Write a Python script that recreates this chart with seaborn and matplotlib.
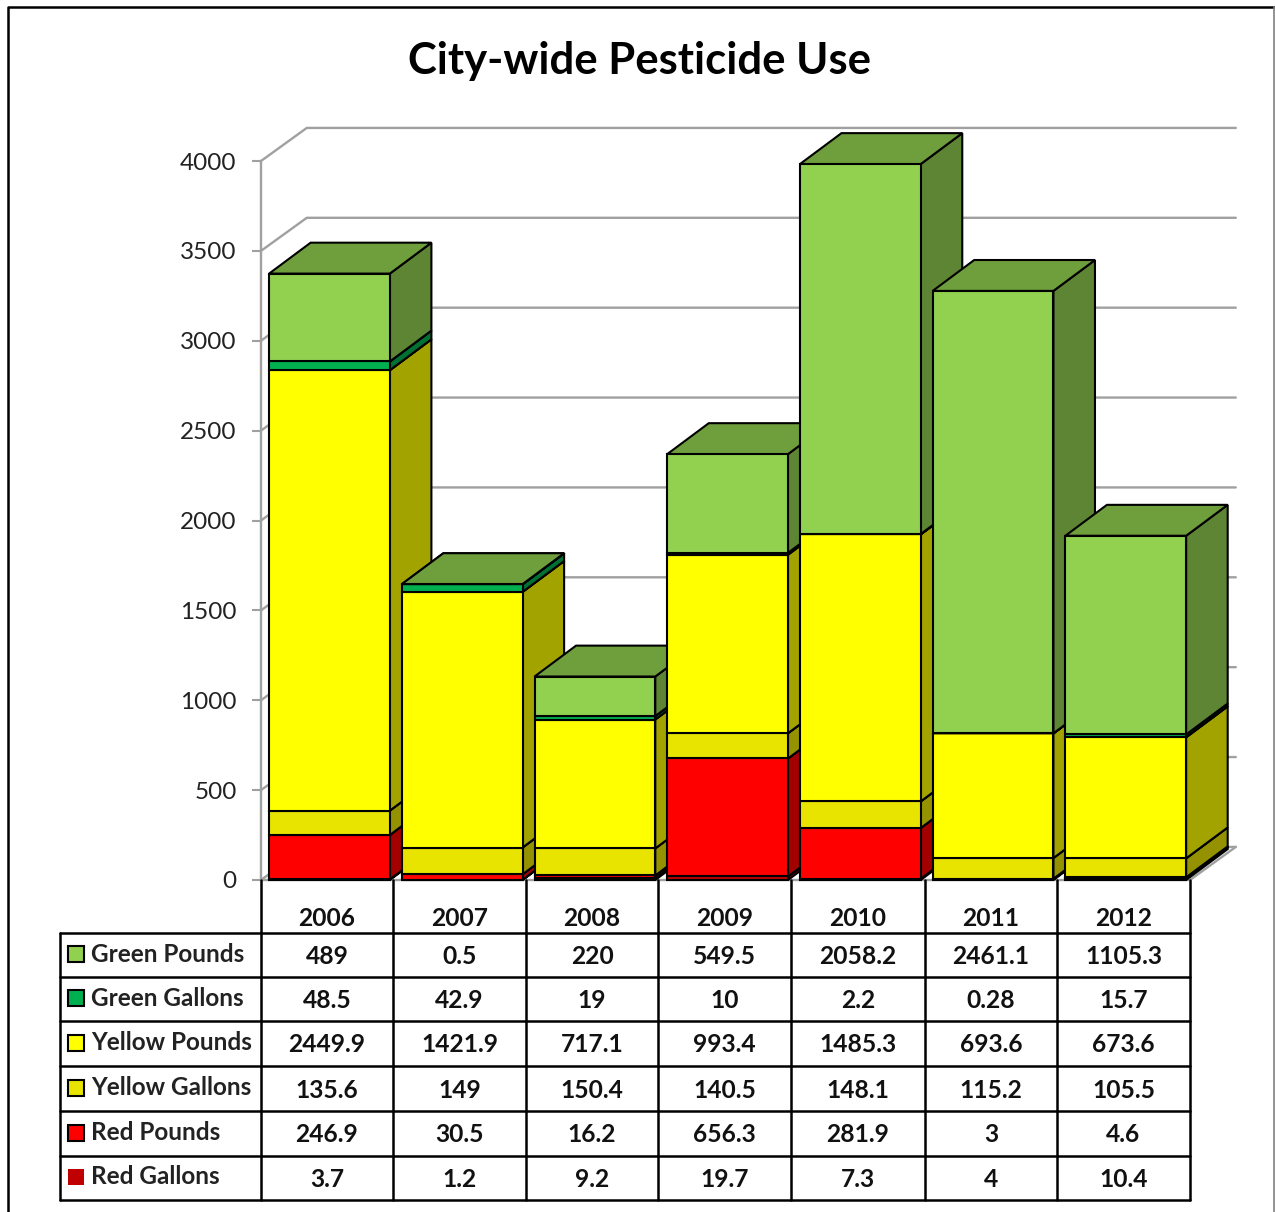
# pesticide_use.py
import pandas as pd
import seaborn as sns
import matplotlib.pyplot as plt
from matplotlib.colors import to_rgb
from matplotlib.patches import Polygon, Rectangle

years = ['2006', '2007', '2008', '2009', '2010', '2011', '2012']
green_pounds = [489, 0.5, 220, 549.5, 2058.2, 2461.1, 1105.3]
green_gallons = [48.5, 42.9, 19, 10, 2.2, 0.28, 15.7]
yellow_pounds = [2449.9, 1421.9, 717.1, 993.4, 1485.3, 693.6, 673.6]
yellow_gallons = [135.6, 149, 150.4, 140.5, 148.1, 115.2, 105.5]
red_pounds = [246.9, 30.5, 16.2, 656.3, 281.9, 3, 4.6]
red_gallons = [3.7, 1.2, 9.2, 19.7, 7.3, 4, 10.4]
y_ticks = [0, 500, 1000, 1500, 2000, 2500, 3000, 3500, 4000]

# table order, top to bottom (the stack goes the other way)
series = ['Green Pounds', 'Green Gallons', 'Yellow Pounds',
          'Yellow Gallons', 'Red Pounds', 'Red Gallons']
colors = ['#92D050', '#00B050', '#FFFF00', '#E8E400', '#FF0000', '#C00000']

df = pd.DataFrame({
    'Year': years,
    'Green Pounds': green_pounds,
    'Green Gallons': green_gallons,
    'Yellow Pounds': yellow_pounds,
    'Yellow Gallons': yellow_gallons,
    'Red Pounds': red_pounds,
    'Red Gallons': red_gallons,
})

sns.set_theme(style='white')
plt.rcParams['font.family'] = ['Lato', 'DejaVu Sans']

W, H = 1275, 1212
fig = plt.figure(figsize=(W / 100, H / 100), dpi=100, facecolor='white')
ax = fig.add_axes([261 / W, (H - 880) / H, 929 / W, 719 / H])
ax.set_facecolor('none')


def shade(color, factor):
    return tuple(c * factor for c in to_rgb(color))


# fake 3d depth, in data units
BAR_DX, BAR_DY = 0.313, 172
WALL_DX, WALL_DY = 0.345, 184
GRID = '#A0A0A0'
BAR_W = 0.91
EDGE_W = 1.5

bottoms = [0.0] * len(years)
for name, color in reversed(list(zip(series, colors))):
    sns.barplot(data=df, x='Year', y=name, order=years, bottom=bottoms,
                color=color, saturation=1, width=BAR_W, errorbar=None,
                edgecolor='black', linewidth=EDGE_W, ax=ax)
    bars = ax.containers[-1]
    for i, (patch, value) in enumerate(zip(bars, df[name])):
        z = 5 + i * 10 + series[::-1].index(name)
        patch.set_zorder(z + 0.5)
        patch.set_clip_on(False)
        x1 = i + BAR_W / 2
        x0 = i - BAR_W / 2
        y0, y1 = bottoms[i], bottoms[i] + value
        ax.add_patch(Polygon(
            [(x1, y0), (x1 + BAR_DX, y0 + BAR_DY),
             (x1 + BAR_DX, y1 + BAR_DY), (x1, y1)],
            facecolor=shade(color, 0.64), edgecolor='black', linewidth=EDGE_W,
            zorder=z, clip_on=False))
        ax.add_patch(Polygon(
            [(x0, y1), (x0 + BAR_DX, y1 + BAR_DY),
             (x1 + BAR_DX, y1 + BAR_DY), (x1, y1)],
            facecolor=shade(color, 0.76), edgecolor='black', linewidth=EDGE_W,
            zorder=z, clip_on=False))
    bottoms = [b + v for b, v in zip(bottoms, df[name])]

ax.set_xlim(-0.516, 6.484)
ax.set_ylim(0, 4000)
ax.set_xlabel('')
ax.set_ylabel('')
ax.set_xticks([])
ax.set_yticks(y_ticks)
ax.tick_params(axis='y', length=6.5, width=1.5, color=GRID, pad=11,
               labelsize=17.5, labelcolor='#222222', left=True)
sns.despine(ax=ax, top=True, right=True, bottom=True)
ax.spines['left'].set_color(GRID)
ax.spines['left'].set_linewidth(1.7)
ax.grid(False)

# back wall lines, side wall slants and the floor
left, right = ax.get_xlim()
for tick in y_ticks:
    ax.plot([left, left + WALL_DX, right + WALL_DX],
            [tick, tick + WALL_DY, tick + WALL_DY],
            color=GRID, linewidth=1.7, zorder=1, clip_on=False)
ax.plot([left, right, right + WALL_DX], [0, 0, WALL_DY],
        color=GRID, linewidth=1.7, zorder=2, clip_on=False)

# table, title and frame drawn over the chart in pixel coordinates
over = fig.add_axes([0, 0, 1, 1], zorder=10)
over.set_xlim(0, W)
over.set_ylim(H, 0)
over.axis('off')

col_x = [261, 393, 526, 658, 791, 925, 1057, 1190]
row_y = [933, 977, 1021, 1066, 1111, 1156, 1200]
for x in col_x:
    over.plot([x, x], [880, row_y[-1]], color='black', linewidth=1.8)
for y in row_y:
    over.plot([60, col_x[-1]], [y, y], color='black', linewidth=1.8)
over.plot([60, 60], [row_y[0], row_y[-1]], color='black', linewidth=1.8)

centers = [(a + b) / 2 for a, b in zip(col_x[:-1], col_x[1:])]
for x, year in zip(centers, years):
    over.text(x, 919, year, ha='center', va='center', fontsize=17.7,
              fontweight='bold', color='#111111')

for r, (name, color) in enumerate(zip(series, colors)):
    cy = (row_y[r] + row_y[r + 1]) / 2
    edge = 'none' if name == 'Red Gallons' else 'black'
    over.add_patch(Rectangle((68, cy - 9), 16, 16, facecolor=color,
                             edgecolor=edge, linewidth=1.5))
    over.text(91, cy - 1, name, ha='left', va='center', fontsize=17.5,
              fontweight='bold', color='#222222')
    for x, value in zip(centers, df[name]):
        over.text(x, cy + 1.5, f'{value:g}', ha='center', va='center',
                  fontsize=17.7, fontweight='bold', color='#111111')

over.text(640, 61, 'City-wide Pesticide Use', ha='center', va='center',
          fontsize=31.4, fontweight='bold', color='black')

over.plot([8, 8, W], [H, 7, 7], color='black', linewidth=1.8)
over.plot([W - 1, W - 1], [7, H], color='#808080', linewidth=1.2)

fig.savefig('out.png', dpi=100)
